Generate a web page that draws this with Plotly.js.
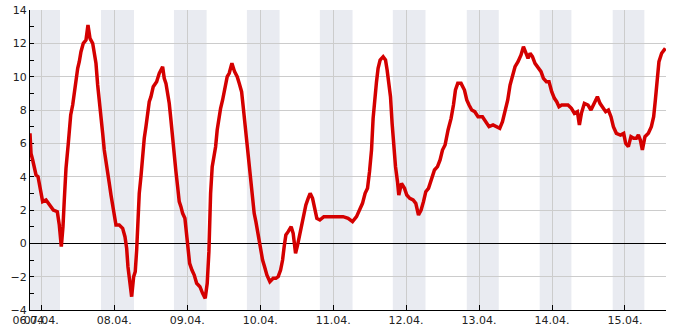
<!DOCTYPE html>
<html>
<head>
<meta charset="utf-8">
<script src="https://cdn.plot.ly/plotly-3.0.1.min.js"></script>
<style>
  html, body { margin: 0; padding: 0; background: #fff; }
  #chart { width: 685px; height: 330px; }
</style>
</head>
<body>
<div id="chart"></div>
<script>
// Hours since 07.04. 00:00
var hours = [
  -3.72, -3.39, -2.84, -2.30, -1.74, -1.08, -0.32, 0.44, 1.55, 2.86, 3.95, 5.26, 5.92, 6.58, 7.13, 7.56, 8.12, 8.88, 9.67, 10.32,
  10.85, 11.41, 11.97, 12.49, 13.05, 13.81, 14.70, 15.35, 16.01, 16.90, 17.43, 17.98, 18.54, 19.07, 19.63, 20.19, 20.71, 21.27, 21.83, 22.36,
  22.92, 23.47, 24.00, 24.56, 25.64, 26.76, 27.52, 28.08, 28.50, 29.06, 29.72, 30.38, 30.90, 31.37, 31.79, 32.22, 32.78, 33.34, 33.86, 34.42,
  34.98, 35.51, 36.07, 36.82, 37.94, 38.80, 39.91, 40.44, 41.00, 41.56, 42.08, 42.64, 43.20, 43.73, 44.29, 44.84, 45.37, 45.93, 46.49, 47.24,
  47.80, 48.23, 48.79, 49.55, 50.31, 51.10, 52.18, 53.06, 53.92, 54.58, 55.13, 55.69, 56.22, 56.78, 57.34, 57.86, 58.42, 58.98, 59.64,
  60.39, 61.15, 61.81, 62.70, 63.58, 64.44, 65.10, 65.89, 66.41, 66.97, 67.63, 68.38, 68.94, 69.50, 70.03, 70.59, 71.34, 72.13, 72.79, 73.45,
  74.20, 75.19, 76.28, 77.16, 77.92, 78.71, 79.37, 79.89, 80.45, 81.21, 82.19, 82.85, 83.64, 84.30, 84.96, 85.61, 86.37, 87.03, 87.78, 88.44,
  89.23, 89.99, 90.64, 91.63, 92.94, 94.92, 97.12, 99.29, 100.93, 102.38, 103.69, 104.78, 105.66, 106.52, 107.31, 107.97, 108.63, 109.15, 109.71, 110.27,
  110.79, 111.45, 112.44, 113.23, 113.76, 114.31, 114.87, 115.40, 115.96, 116.52, 117.17, 117.60, 118.49, 119.48, 120.23, 121.22, 122.30, 123.19, 124.08, 124.93,
  125.72, 126.48, 127.37, 128.35, 129.34, 130.33, 131.18, 131.97, 132.82, 133.81, 134.80, 135.58, 136.24, 137.00, 138.08, 139.20, 139.96, 140.71, 141.60, 142.59,
  143.67, 145.12, 146.20, 147.29, 148.61, 149.72, 150.81, 151.70, 152.55, 153.44, 154.20, 154.98, 155.84, 156.82, 157.81, 158.60, 159.35, 160.11, 160.77, 161.56,
  162.41, 163.40, 164.39, 165.17, 166.16, 167.02, 167.90, 168.79, 169.55, 170.30, 171.19, 173.26, 174.38, 175.37, 176.35, 177.01, 177.67, 178.65, 179.84, 180.82,
  181.81, 182.93, 183.78, 184.77, 185.66, 186.55, 187.40, 188.19, 189.17, 190.49, 191.58, 192.23, 193.12, 193.97, 194.86, 195.75, 196.41, 197.06, 197.72, 198.58,
  199.70, 200.68, 201.44, 202.00, 202.53, 203.18, 204.07, 205.29
];
var temps = [
  6.6, 5.4, 5.0, 4.6, 4.1, 4.0, 3.2, 2.5, 2.6, 2.3, 2.0, 1.9, 1.1, -0.2, 1.0, 2.6, 4.5, 6.0, 7.7, 8.3,
  9.1, 9.8, 10.5, 10.9, 11.5, 12.0, 12.2, 13.1, 12.3, 12.0, 11.5, 10.8, 9.5, 8.4, 7.4, 6.6, 5.6, 4.8, 4.3, 3.6,
  2.9, 2.3, 1.7, 1.1, 1.1, 0.9, 0.4, -0.3, -1.4, -2.3, -3.2, -2.0, -1.7, -0.4, 1.8, 3.0, 4.0, 5.3, 6.3, 7.0,
  7.8, 8.5, 8.8, 9.4, 9.7, 10.2, 10.6, 9.9, 9.6, 9.0, 8.4, 7.4, 6.3, 5.0, 4.3, 3.4, 2.5, 2.2, 1.8, 1.5,
  0.5, -0.5, -1.2, -1.6, -1.9, -2.4, -2.6, -3.0, -3.3, -2.4, -0.5, 3.0, 4.6, 5.2, 5.8, 6.8, 7.5, 8.1, 8.6,
  9.2, 10.0, 10.2, 10.8, 10.3, 10.0, 9.6, 9.1, 8.2, 7.2, 5.8, 4.3, 3.6, 2.8, 1.8, 1.3, 0.5, -0.2, -1.0, -1.4,
  -1.9, -2.3, -2.1, -2.1, -2.0, -1.6, -1.0, -0.2, 0.5, 0.7, 1.0, 0.6, -0.6, -0.1, 0.5, 1.2, 1.8, 2.3, 2.7, 3.0,
  2.7, 2.0, 1.5, 1.4, 1.6, 1.6, 1.6, 1.6, 1.5, 1.3, 1.6, 2.0, 2.4, 3.0, 3.3, 4.3, 5.6, 7.5, 8.8, 9.7,
  10.5, 11.0, 11.2, 11.0, 10.4, 9.7, 8.8, 7.2, 5.5, 4.6, 3.7, 2.9, 3.6, 3.3, 2.9, 2.7, 2.6, 2.4, 1.7, 2.0,
  2.5, 3.1, 3.3, 3.9, 4.4, 4.6, 5.0, 5.6, 5.9, 6.8, 7.5, 8.3, 9.2, 9.6, 9.6, 9.2, 8.6, 8.3, 8.0, 7.9,
  7.6, 7.6, 7.3, 7.0, 7.1, 7.0, 6.9, 7.3, 8.0, 8.6, 9.5, 10.0, 10.6, 10.9, 11.3, 11.8, 11.4, 11.1, 11.4, 11.2,
  10.8, 10.5, 10.3, 9.9, 9.7, 9.7, 9.1, 8.7, 8.5, 8.2, 8.3, 8.3, 8.1, 7.8, 7.9, 7.1, 7.8, 8.4, 8.3, 8.0,
  8.4, 8.8, 8.4, 8.1, 7.9, 8.0, 7.6, 7.0, 6.6, 6.5, 6.6, 6.0, 5.8, 6.4, 6.3, 6.3, 6.5, 6.2, 5.6, 6.4,
  6.6, 7.0, 7.6, 8.6, 9.8, 10.9, 11.4, 11.7
];
// Night bands (hours since 07.04. 00:00)
var nightStart = [-3.72, 19.63, 43.63, 67.63, 91.63, 115.63, 139.96, 163.95, 187.96];
var nightEnd   = [6.15, 30.48, 54.38, 78.38, 102.38, 126.38, 150.48, 174.38, 198.38];
// X tick positions and labels
var tickHours  = [-3.72, 0, 24, 48, 72, 96, 120, 144, 168, 192];
var tickLabels = ["06.04.", "07.04.", "08.04.", "09.04.", "10.04.", "11.04.", "12.04.", "13.04.", "14.04.", "15.04."];
var xRange = [-3.72, 205.5];
var yTicks = [-4, -2, 0, 2, 4, 6, 8, 10, 12, 14];

var shapes = nightStart.map(function (s, i) {
  return {type: 'rect', xref: 'x', yref: 'paper', x0: s, x1: nightEnd[i], y0: 0, y1: 1,
          fillcolor: '#e9ebf1', line: {width: 0}, layer: 'below'};
});

var trace = {
  x: hours, y: temps, type: 'scatter', mode: 'lines',
  line: {color: '#d40000', width: 3.5},
  hoverinfo: 'skip'
};

var layout = {
  width: 685, height: 330,
  margin: {l: 30, r: 19, t: 10, b: 20},
  paper_bgcolor: '#fff', plot_bgcolor: 'rgba(0,0,0,0)',
  showlegend: false,
  font: {family: 'DejaVu Sans, sans-serif', size: 11, color: '#222'},
  shapes: shapes,
  xaxis: {
    range: xRange, tickmode: 'array', tickvals: tickHours, ticktext: tickLabels,
    tickangle: 0, automargin: false,
    showgrid: true, gridcolor: '#cccccc', gridwidth: 1,
    showline: true, linecolor: '#000', linewidth: 1,
    ticks: 'inside', ticklen: 5, tickcolor: '#000',
    zeroline: false, layer: 'below traces'
  },
  yaxis: {
    range: [-4, 14], tickmode: 'array', tickvals: yTicks,
    automargin: false,
    showgrid: true, gridcolor: '#cccccc', gridwidth: 1,
    showline: true, linecolor: '#000', linewidth: 1,
    ticks: 'inside', ticklen: 4, tickcolor: '#000',
    minor: {dtick: 1, ticks: 'inside', ticklen: 4, tickcolor: '#000', showgrid: false},
    zeroline: true, zerolinecolor: '#000', zerolinewidth: 1,
    layer: 'below traces'
  }
};

Plotly.newPlot('chart', [trace], layout, {displayModeBar: false, staticPlot: true});
</script>
</body>
</html>
